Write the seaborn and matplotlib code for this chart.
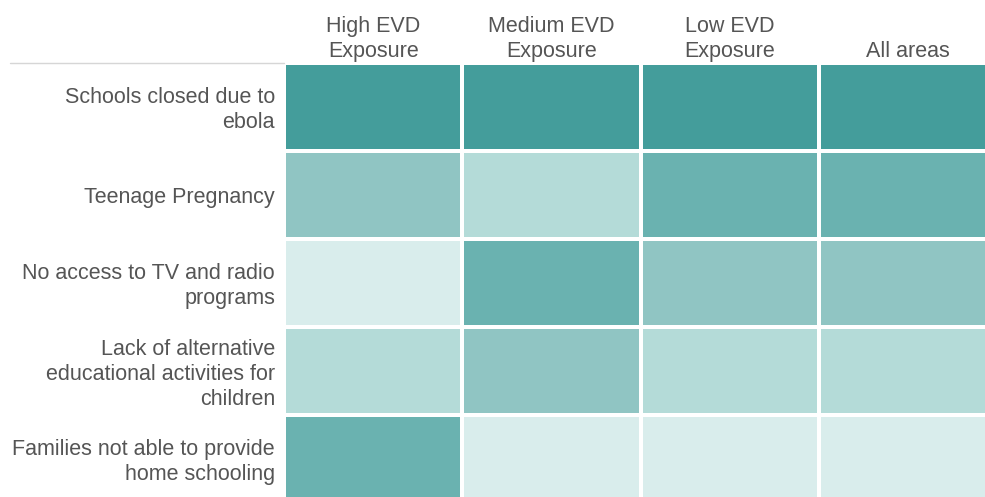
import numpy as np
import pandas as pd
import matplotlib
matplotlib.use("Agg")
import matplotlib.pyplot as plt
from matplotlib.colors import ListedColormap
from matplotlib.lines import Line2D
from matplotlib.transforms import ScaledTranslation
import seaborn as sns

rows = ["Schools closed due to\nebola",
        "Teenage Pregnancy",
        "No access to TV and radio\nprograms",
        "Lack of alternative\neducational activities for\nchildren",
        "Families not able to provide\nhome schooling"]
cols = ["High EVD\nExposure", "Medium EVD\nExposure", "Low EVD\nExposure", "All areas"]

# rank (1 = most cited)
high_evd = [1, 3, 5, 4, 2]
medium_evd = [1, 4, 2, 3, 5]
low_evd = [1, 2, 3, 4, 5]
all_areas = [1, 2, 3, 4, 5]

df = pd.DataFrame({c: v for c, v in zip(cols, [high_evd, medium_evd, low_evd, all_areas])},
                  index=rows)

palette = ["#449d9b", "#6ab2b0", "#90c5c3", "#b4dbd8", "#d9edec"]
cmap = ListedColormap(palette)

sns.set_theme(style="white")
plt.rcParams['font.family'] = ['Liberation Sans', 'DejaVu Sans']

fig = plt.figure(figsize=(9.85, 4.97), dpi=100)
W, H = 985, 497
left_px, top_px = 284, 63
width_px, height_px = 713, 440
ax = fig.add_axes([left_px / W, 1 - (top_px + height_px) / H, width_px / W, height_px / H])

sns.heatmap(df, ax=ax, cmap=cmap, vmin=0.5, vmax=5.5, cbar=False,
            linewidths=2.8, linecolor="white", square=False)

ax.xaxis.tick_top()
ax.xaxis.set_label_position("top")
ax.set_xlabel("")
ax.set_ylabel("")
ax.tick_params(axis="both", length=0)
ax.tick_params(axis="x", pad=0.5)
ax.tick_params(axis="y", pad=6.5)
shift = ScaledTranslation(0, -3 / 100, fig.dpi_scale_trans)
for t in ax.get_xticklabels():
    t.set_rotation(0)
    t.set_fontsize(15.5)
    t.set_color("#555555")
    t.set_ha("center")
    t.set_linespacing(1.25)
for t in ax.get_yticklabels():
    t.set_rotation(0)
    t.set_fontsize(15.5)
    t.set_color("#555555")
    t.set_ha("right")
    t.set_va("center")
    t.set_multialignment("right")
    t.set_linespacing(1.25)
    t.set_transform(t.get_transform() + shift)

fig.add_artist(Line2D([10 / W, left_px / W], [1 - top_px / H, 1 - top_px / H],
                      color="#d6d6d6", lw=1.0, transform=fig.transFigure))

fig.savefig("out.png", dpi=100)
